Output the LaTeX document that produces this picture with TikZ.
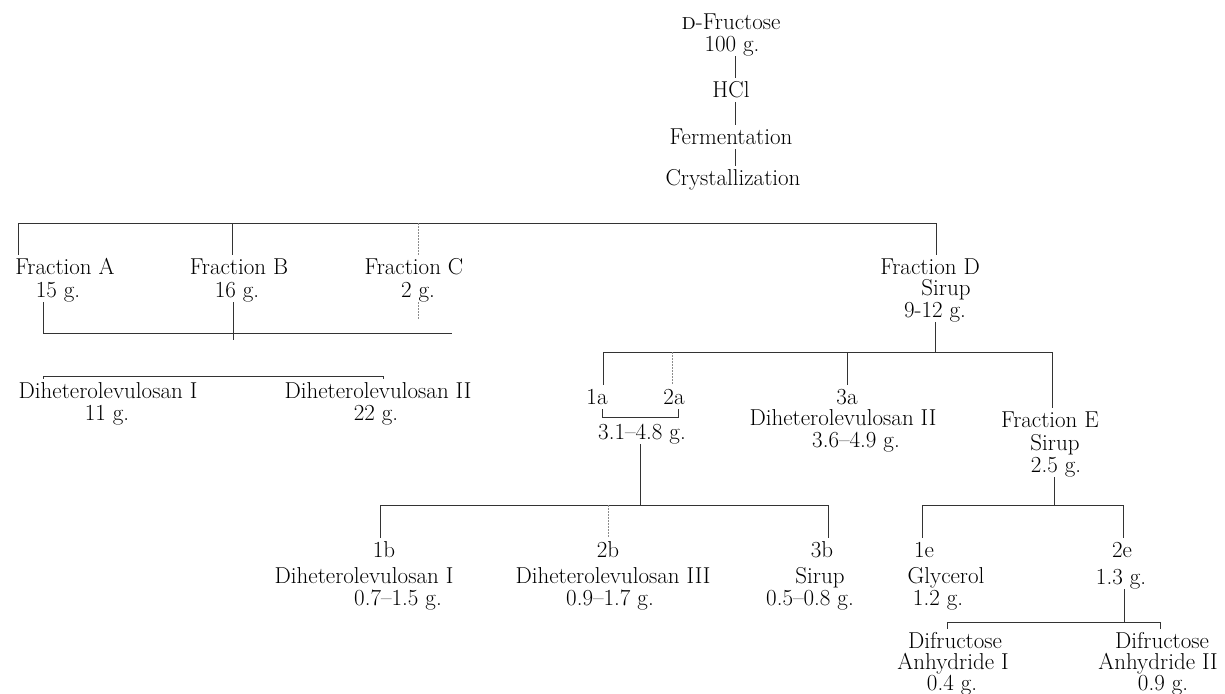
\documentclass[tikz,border=0pt]{standalone}
\begin{document}
\begin{tikzpicture}[x=1pt,y=-1pt,
  lbl/.style={inner sep=0pt, outer sep=4.5pt, font=\fontsize{23}{25}\selectfont, text height=15.6pt, text depth=0pt, anchor=center},
  ln/.style={line width=0.75pt, black!80},
  fl/.style={line width=0.6pt, black!45, dash pattern=on 2pt off 1pt}]
\useasboundingbox (0,0) rectangle (1225,693);
% top column
\node[lbl] (fru1) at (731,22) {\textsc{d}-Fructose};
\node[lbl] (fru2) at (732,44) {100 g.};
\node[lbl] (hcl) at (731,90) {HCl};
\node[lbl] (fer) at (731,137) {Fermentation};
\node[lbl] (cry) at (733,178) {Crystallization};
% fractions
\node[lbl] (fa1) at (65,267) {Fraction A};
\node[lbl] (fa2) at (58,290) {15 g.};
\node[lbl] (fb1) at (239,267) {Fraction B};
\node[lbl] (fb2) at (237,290) {16 g.};
\node[lbl] (fc1) at (414,267) {Fraction C};
\node[lbl] (fc2) at (418,290) {2 g.};
\node[lbl] (fd1) at (930,267) {Fraction D};
\node[lbl] (fd2) at (946,288) {Sirup};
\node[lbl] (fd3) at (935,310) {9-12 g.};
% diheterolevulosans
\node[lbl] (dh1a) at (108,391) {Diheterolevulosan I};
\node[lbl] (dh1b) at (107,413) {11 g.};
\node[lbl] (dh2a) at (378,391) {Diheterolevulosan II};
\node[lbl] (dh2b) at (376,413) {22 g.};
% fraction D products
\node[lbl] (n1a) at (597,397) {1a};
\node[lbl] (n2a) at (674,397) {2a};
\node[lbl] (r12) at (642,432) {3.1--4.8 g.};
\node[lbl] (n3a1) at (847,397) {3a};
\node[lbl] (n3a2) at (843,418) {Diheterolevulosan II};
\node[lbl] (n3a3) at (856,440) {3.6--4.9 g.};
\node[lbl] (fe1) at (1050,420) {Fraction E};
\node[lbl] (fe2) at (1055,443) {Sirup};
\node[lbl] (fe3) at (1056,465) {2.5 g.};
% b row
\node[lbl] (n1b) at (384,550) {1b};
\node[lbl] (n1b2) at (364,576) {Diheterolevulosan I};
\node[lbl] (n1b3) at (398,598) {0.7--1.5 g.};
\node[lbl] (n2b) at (608,550) {2b};
\node[lbl] (n2b2) at (613,576) {Diheterolevulosan III};
\node[lbl] (n2b3) at (610,598) {0.9--1.7 g.};
\node[lbl] (n3b) at (822,550) {3b};
\node[lbl] (n3b2) at (820,576) {Sirup};
\node[lbl] (n3b3) at (810,598) {0.5--0.8 g.};
% e row
\node[lbl] (n1e) at (924,550) {1e};
\node[lbl] (n1e2) at (946,576) {Glycerol};
\node[lbl] (n1e3) at (938,598) {1.2 g.};
\node[lbl] (n2e) at (1122,550) {2e};
\node[lbl] (n2e2) at (1121,577) {1.3 g.};
\node[lbl] (dfa1) at (955,641) {Difructose};
\node[lbl] (dfa2) at (953,662) {Anhydride I};
\node[lbl] (dfa3) at (952,683) {0.4 g.};
\node[lbl] (dfb1) at (1162,641) {Difructose};
\node[lbl] (dfb2) at (1158,662) {Anhydride II};
\node[lbl] (dfb3) at (1163,683) {0.9 g.};
% connectors: top column
\coordinate (ax) at (735,0);
\draw[ln] (fru2.south -| ax) -- (hcl.north -| ax);
\draw[ln] (hcl.south -| ax) -- (fer.north -| ax);
\draw[ln] (fer.south -| ax) -- (cry.north -| ax);
% main bus
\coordinate (bL) at (18,223);
\coordinate (bR) at (936,223);
\coordinate (jB) at (232,223);
\coordinate (jC) at (418,223);
\draw[ln] (bL |- fa1.north) -- (bL) -- (bR) -- (bR |- fd1.north);
\draw[ln] (jB) -- (jB |- fb1.north);
\draw[fl] (jC) -- (jC |- fc1.north);
% combining bus
\coordinate (cL) at (43,333);
\coordinate (cR) at (452,333);
\coordinate (cB) at (233,340);
\coordinate (cC) at (418,320);
\draw[ln] (cL |- fa2.south) -- (cL) -- (cR);
\draw[ln] (cB |- fb2.south) -- (cB);
\draw[fl] (cC |- fc2.south) -- (cC);
% diheterolevulosan bus
\coordinate (dL) at (43,376);
\coordinate (dR) at (383,376);
\draw[ln] (dL |- dh1a.north) -- (dL) -- (dR) -- (dR |- dh2a.north);
% fraction D bus
\coordinate (eT) at (935,352);
\coordinate (eL) at (603,352);
\coordinate (eR) at (1052,352);
\coordinate (e2) at (672,352);
\coordinate (e3) at (847,352);
\draw[ln] (eT |- fd3.south) -- (eT);
\draw[ln] (eL |- n1a.north) -- (eL) -- (eR) -- (eR |- fe1.north);
\draw[fl] (e2) -- (e2 |- n2a.north);
\draw[ln] (e3) -- (e3 |- n3a1.north);
% bracket 1a-2a
\coordinate (kL) at (602,417);
\coordinate (kR) at (678,417);
\draw[ln] (kL |- n1a.south) -- (kL) -- (kR) -- (kR |- n2a.south);
% b bus
\coordinate (gT) at (640,505);
\coordinate (gL) at (380,505);
\coordinate (gR) at (828,505);
\coordinate (g2) at (608,505);
\draw[ln] (gT |- r12.south) -- (gT);
\draw[ln] (gL |- n1b.north) -- (gL) -- (gR) -- (gR |- n3b.north);
\draw[fl] (g2) -- (g2 |- n2b.north);
% e bus
\coordinate (hT) at (1054,505);
\coordinate (hL) at (922,505);
\coordinate (hR) at (1123,505);
\draw[ln] (hT |- fe3.south) -- (hT);
\draw[ln] (hL |- n1e.north) -- (hL) -- (hR) -- (hR |- n2e.north);
% anhydride bus
\coordinate (iT) at (1124,622);
\coordinate (iL) at (947,622);
\coordinate (iR) at (1160,622);
\draw[ln] (iT |- n2e2.south) -- (iT);
\draw[ln] (iL |- dfa1.north) -- (iL) -- (iR) -- (iR |- dfb1.north);
\end{tikzpicture}
\end{document}
